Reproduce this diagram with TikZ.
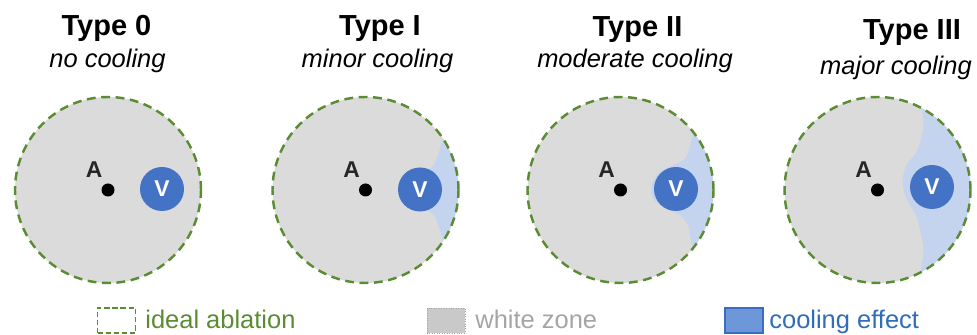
\documentclass[tikz,border=0pt]{standalone}
\usepackage{fontspec}
\setmainfont{Liberation Sans}
\usetikzlibrary{positioning}
\definecolor{ablgreen}{HTML}{5B8C33}
\definecolor{zonegray}{HTML}{DBDBDB}
\definecolor{coolblue}{HTML}{C4D4EE}
\definecolor{vesselblue}{HTML}{4472C4}
\definecolor{keyblue}{HTML}{6E97DA}
\definecolor{keyedge}{HTML}{3A6CC2}
\definecolor{txtblue}{HTML}{2F6DBA}
\definecolor{txtgray}{HTML}{A5A5A5}

\begin{document}
\begin{tikzpicture}[
    zone/.style={fill=zonegray},
    cool/.style={fill=coolblue},
    ring/.style={draw=ablgreen, line width=1.4pt, dash pattern=on 5pt off 3.2pt, circle, minimum size=3.72cm, inner sep=0pt},
    vessel/.style={circle, fill=vesselblue, minimum size=0.88cm, inner sep=0pt, text=white, font=\fontsize{13}{13}\selectfont\bfseries},
    tip/.style={circle, fill=black, minimum size=0.26cm, inner sep=0pt},
    tiplbl/.style={font=\fontsize{13}{13}\selectfont\bfseries, inner sep=0pt, text=black!85},
    title/.style={anchor=base, font=\fontsize{16.5}{16.5}\selectfont\bfseries, inner sep=0pt},
    subtitle/.style={anchor=base, font=\fontsize{14.5}{14.5}\selectfont\itshape, inner sep=0pt},
    keybox/.style={minimum width=0.76cm, minimum height=0.5cm, inner sep=0pt},
    keylbl/.style={anchor=base west, font=\fontsize{14.5}{14.5}\selectfont, inner sep=0pt}
  ]
  \useasboundingbox (0,0) rectangle (19.54,6.7);

  % titles
  \node[title] (t0) at (2.13, 5.98) {Type 0};
  \node[subtitle] (s0) at (2.15, 5.34) {no cooling};
  \node[title] (t1) at (7.6, 5.98) {Type I};
  \node[subtitle] (s1) at (7.55, 5.34) {minor cooling};
  \node[title] (t2) at (12.75, 5.96) {Type II};
  \node[subtitle] (s2) at (12.7, 5.34) {moderate cooling};
  \node[title] (t3) at (18.24, 5.9) {Type III};
  \node[subtitle] (s3) at (17.92, 5.2) {major cooling};

  % Type 0
  \begin{scope}[shift={(2.16,2.9)}]
    \fill[zone] (0,0) circle (1.86);
    \node[vessel] (v0) at (1.08, 0.02) {V};
    \node[tip] (a0) at (0,0) {};
    \node[tiplbl] (la0) at (-0.28, 0.4) {A};
    \node[ring] (r0) at (0,0) {};
  \end{scope}

  % Type I
  \begin{scope}[shift={(7.31,2.9)}]
    \fill[zone] (0,0) circle (1.86);
    \begin{scope}
      \clip (0,0) circle (1.86);
      \fill[cool] (2.2,1.08) -- plot[smooth] coordinates {(1.56,1.08) (1.46,0.74) (1.36,0.5) (1.22,0.36) (1.12,0.2) (1.1,0) (1.12,-0.2) (1.22,-0.37) (1.39,-0.53) (1.49,-0.8) (1.54,-1.0)} -- (2.2,-1.0) -- cycle;
    \end{scope}
    \node[vessel] (v1) at (1.09, 0.01) {V};
    \node[tip] (a1) at (0,0) {};
    \node[tiplbl] (la1) at (-0.28, 0.4) {A};
    \node[ring] (r1) at (0,0) {};
  \end{scope}

  % Type II
  \begin{scope}[shift={(12.41,2.9)}]
    \fill[zone] (0,0) circle (1.86);
    \begin{scope}
      \clip (0,0) circle (1.86);
      \fill[cool] (2.2,1.3) -- plot[smooth] coordinates {(1.49,1.3) (1.39,0.87) (1.29,0.63) (1.06,0.5) (0.79,0.37) (0.64,0.15) (0.62,0) (0.64,-0.15) (0.82,-0.33) (1.19,-0.5) (1.36,-0.73) (1.42,-1.06) (1.52,-1.46)} -- (2.2,-1.46) -- cycle;
    \end{scope}
    \node[vessel] (v2) at (1.11, 0.02) {V};
    \node[tip] (a2) at (0,0) {};
    \node[tiplbl] (la2) at (-0.28, 0.4) {A};
    \node[ring] (r2) at (0,0) {};
  \end{scope}

  % Type III
  \begin{scope}[shift={(17.55,2.9)}]
    \fill[zone] (0,0) circle (1.86);
    \begin{scope}
      \clip (0,0) circle (1.86);
      \fill[cool] (2.2,1.8) -- plot[smooth] coordinates {(0.85,1.8) (0.92,1.33) (0.88,1.06) (0.78,0.76) (0.58,0.5) (0.5,0.2) (0.52,0) (0.62,-0.26) (0.78,-0.54) (0.88,-0.94) (0.92,-1.26) (0.84,-1.74)} -- (2.2,-1.74) -- cycle;
    \end{scope}
    \node[vessel] (v3) at (1.09, 0.06) {V};
    \node[tip] (a3) at (0,0) {};
    \node[tiplbl] (la3) at (-0.28, 0.4) {A};
    \node[ring] (r3) at (0,0) {};
  \end{scope}

  % legend
  \node[keybox, draw=ablgreen, line width=1pt, dash pattern=on 3pt off 1.6pt] (k0) at (2.33, 0.29) {};
  \node[keylbl, text=ablgreen] (l0) at (2.9, 0.12) {ideal ablation};
  \node[keybox, fill=zonegray!92!black, draw=txtgray, densely dotted] (k1) at (8.92, 0.29) {};
  \node[keylbl, text=txtgray] (l1) at (9.5, 0.12) {white zone};
  \node[keybox, fill=keyblue, draw=keyedge, line width=0.6pt] (k2) at (14.88, 0.29) {};
  \node[keylbl, text=txtblue] (l2) at (15.38, 0.12) {cooling effect};
\end{tikzpicture}
\end{document}
